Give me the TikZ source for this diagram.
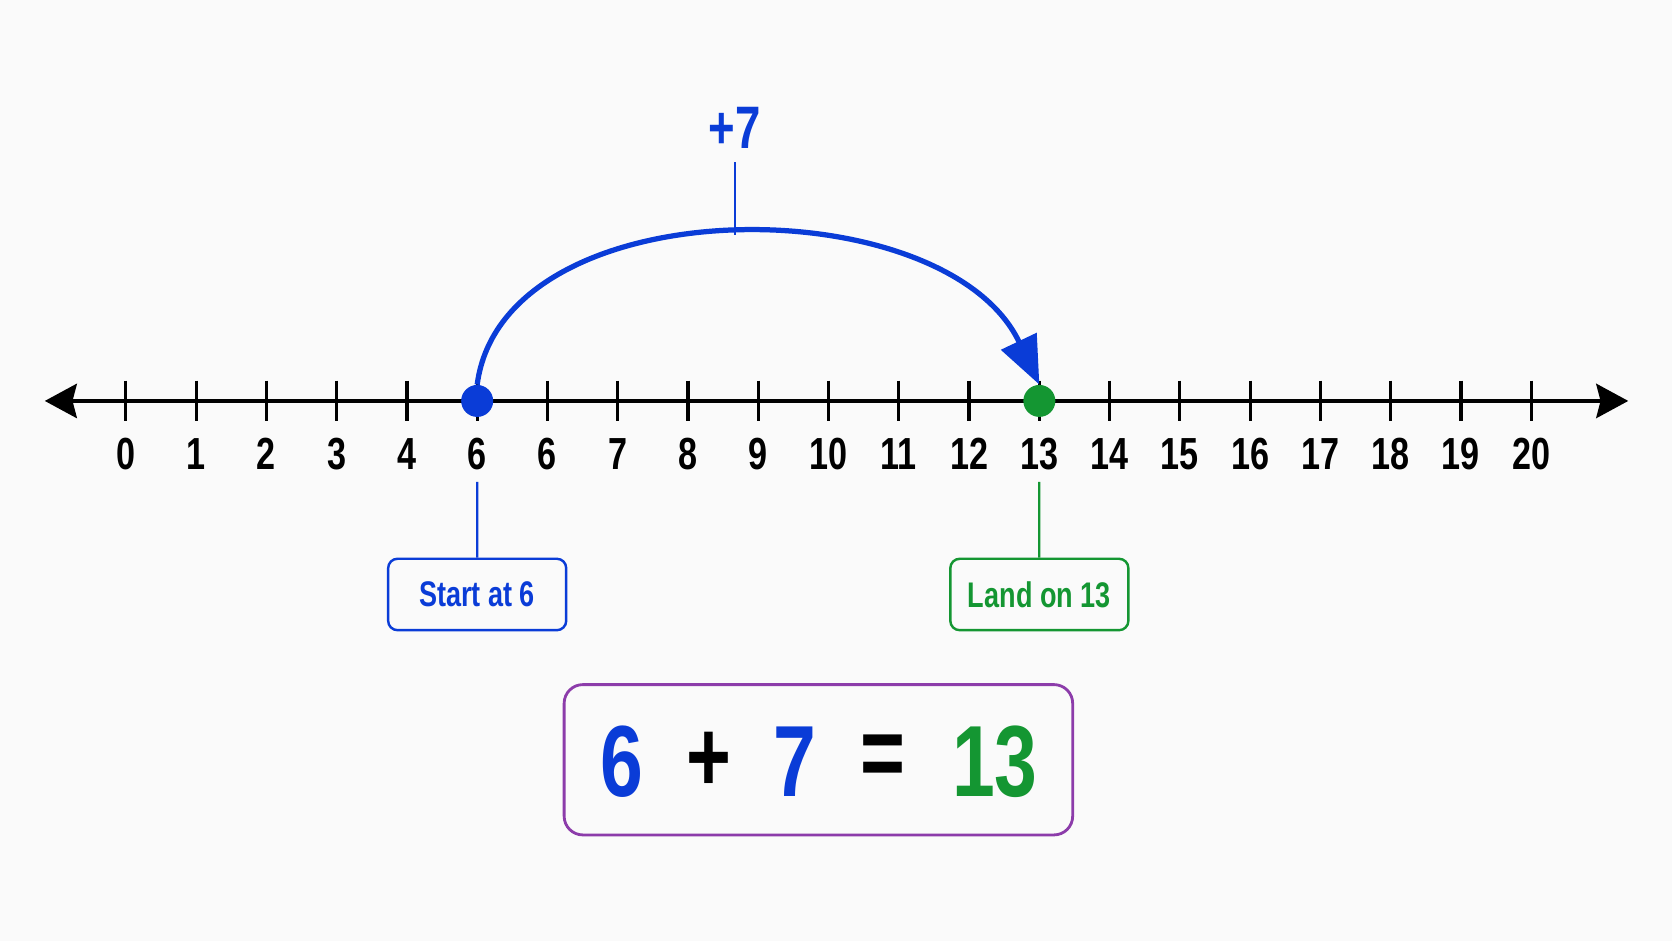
\documentclass[tikz,border=0pt]{standalone}
\usepackage{fontspec}
\setmainfont{Liberation Sans}
\newfontfamily\narrowsans[FakeStretch=0.76]{Liberation Sans}
\usetikzlibrary{arrows.meta}
\definecolor{jumpblue}{RGB}{10,60,215}
\definecolor{landgreen}{RGB}{20,150,50}
\definecolor{eqpurple}{RGB}{140,60,170}
\tikzset{
  axisline/.style={line width=2.3pt, {Stealth[length=0.6cm,width=0.64cm,inset=0.08cm]}-{Stealth[length=0.6cm,width=0.64cm,inset=0.08cm]}},
  tick/.style={line width=1.7pt},
  numlabel/.style={font=\narrowsans\bfseries\fontsize{24}{24}\selectfont, inner sep=1pt},
  dot/.style={circle, fill, inner sep=0pt, minimum size=0.6cm},
  jump/.style={line width=2.8pt, -{Triangle[length=0.9cm,width=0.72cm]}},
  leader/.style={line width=1.2pt},
  tagbox/.style={draw, line width=1.3pt, rounded corners=5pt, minimum width=3.34cm, minimum height=1.34cm, font=\narrowsans\bfseries\fontsize{19}{19}\selectfont},
  eqpart/.style={font=\narrowsans\bfseries\fontsize{54}{54}\selectfont, inner sep=0pt}
}
\begin{document}
\begin{tikzpicture}[x=0.02cm, y=-0.02cm]
  % page and background
  \fill[white!98!black] (0,0) rectangle (1568,882);
  \useasboundingbox (0,0) rectangle (1568,882);

  % the number line
  \coordinate (axisL) at (42,376);
  \coordinate (axisR) at (1527,376);
  \draw[axisline] (axisL) -- (axisR);
  \foreach \i in {0,...,20} {
    \pgfmathtruncatemacro\lab{\i==5 ? 6 : \i}
    \draw[tick] (118+65.9*\i,357) -- (118+65.9*\i,395);
    \node[numlabel] (lab\i) at (118+65.9*\i,426) {\lab};
  }

  % start and landing points
  \node[dot, jumpblue] (start) at (447.5,376) {};
  \node[dot, landgreen] (land) at (974.7,376) {};

  % the jump
  \draw[jump, jumpblue] (start.north) .. controls (472,174) and (886,174) .. (land.north)
    coordinate[pos=0.5] (peak);
  \node[font=\narrowsans\bfseries\fontsize{32}{32}\selectfont, text=jumpblue, inner sep=2pt] (plus) at (689,120) {+7};
  \draw[leader, jumpblue, shorten <=5pt] (plus) -- (plus |- peak);

  % tags below the line
  \node[tagbox, draw=jumpblue, text=jumpblue] (startbox) at (447.5,557.5) {Start at 6};
  \node[tagbox, draw=landgreen, text=landgreen] (landbox) at (974.7,557.5) {Land on 13};
  \draw[leader, jumpblue, shorten <=5pt] (lab5) -- (startbox);
  \draw[leader, landgreen, shorten <=5pt] (lab13) -- (landbox);

  % the sum
  \node[draw=eqpurple, line width=1.5pt, rounded corners=10pt, minimum width=9.54cm, minimum height=2.82cm] (eqbox) at (767.5,712.5) {};
  \node[eqpart, text=jumpblue] (eqa) at (583,714) {6};
  \node[eqpart] (eqplus) at (665,714) {+};
  \node[eqpart, text=jumpblue] (eqb) at (745,714) {7};
  \node[eqpart] (eqeq) at (828,714) {=};
  \node[eqpart, text=landgreen] (eqc) at (933,714) {13};
\end{tikzpicture}
\end{document}
